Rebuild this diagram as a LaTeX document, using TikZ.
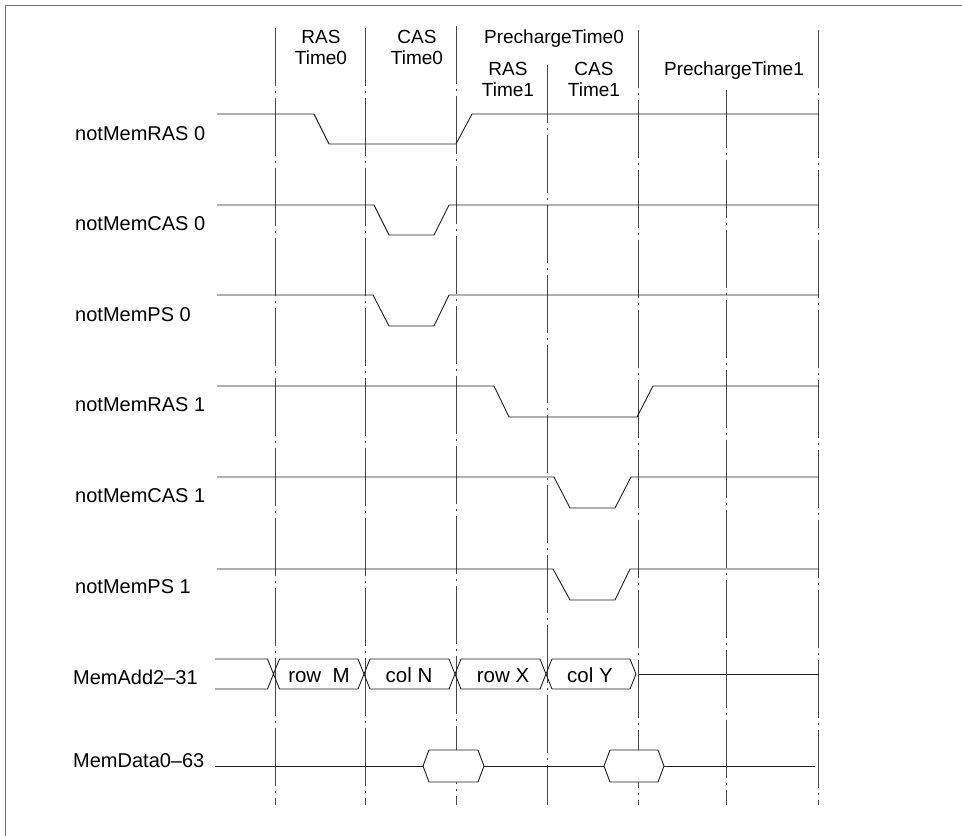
\documentclass[tikz,border=0pt]{standalone}
\usepackage{fontspec}
\setmainfont{Liberation Sans}
\begin{document}
\begin{tikzpicture}[x=1pt,y=-1pt,
  sig/.style={line width=0.9pt, black!88, line join=miter},
  gridline/.style={line width=0.75pt, black!72, dash pattern=on 58pt off 5pt on 2pt off 5pt},
  lbl/.style={anchor=base west, font=\fontsize{20}{21}\selectfont, inner sep=0pt},
  hdr/.style={anchor=base, font=\fontsize{19}{21}\selectfont, inner sep=0pt},
  cell/.style={anchor=base, font=\fontsize{20.5}{21}\selectfont, inner sep=0pt}]
\useasboundingbox (0,0) rectangle (962,836);
% frame
\draw[black!55, line width=0.8pt] (5,836) -- (5,5) -- (962,5);
% time columns
\foreach \x/\t in {275/28,365/28,456/26,547/65,638/30,726/90,818/30}
  \draw[gridline] (\x,\t) -- (\x,805);
% header
\node[hdr] (h1a) at (321,43) {RAS};
\node[hdr] (h1b) at (321,64) {Time0};
\node[hdr] (h2a) at (417,43) {CAS};
\node[hdr] (h2b) at (417,64) {Time0};
\node[hdr] (h3) at (554,43) {PrechargeTime0};
\node[hdr] (h4a) at (508,75) {RAS};
\node[hdr] (h4b) at (508,96) {Time1};
\node[hdr] (h5a) at (594,75) {CAS};
\node[hdr] (h5b) at (594,96) {Time1};
\node[hdr] (h6) at (734,75) {PrechargeTime1};
% signal labels
\node[lbl] (l1) at (75,140) {notMemRAS 0};
\node[lbl] (l2) at (75,230) {notMemCAS 0};
\node[lbl] (l3) at (75,321) {notMemPS 0};
\node[lbl] (l4) at (75,411) {notMemRAS 1};
\node[lbl] (l5) at (75,502) {notMemCAS 1};
\node[lbl] (l6) at (75,593) {notMemPS 1};
\node[lbl] (l7) at (73,684) {MemAdd2–31};
\node[lbl] (l8) at (73,767) {MemData0–63};
% waveforms
\draw[sig] (217,114) -- (314,114) -- (329,144) -- (456,144) -- (472,114) -- (819,114);
\draw[sig] (217,205) -- (374,205) -- (389,235) -- (434,235) -- (449,205) -- (819,205);
\draw[sig] (217,295) -- (373,295) -- (389,326) -- (434,326) -- (449,295) -- (819,295);
\draw[sig] (217,386) -- (494,386) -- (509,417) -- (637,417) -- (653,386) -- (819,386);
\draw[sig] (217,477) -- (554,477) -- (570,508) -- (615,508) -- (631,477) -- (819,477);
\draw[sig] (217,569) -- (553,569) -- (570,600) -- (615,600) -- (630,569) -- (819,569);
% address bus
\draw[sig] (215,659) -- (267.5,659) -- (279.5,689) -- (358,689) -- (370,659) -- (449,659)
  -- (461,689) -- (540,689) -- (552,659) -- (630,659) -- (636,674) -- (630,689)
  -- (552,689) -- (540,659) -- (461,659) -- (449,689) -- (370,689) -- (358,659)
  -- (279.5,659) -- (267.5,689) -- (215,689);
\draw[sig] (639,674) -- (819,674);
\node[cell] (a1) at (319,682) {row\ \ M};
\node[cell] (a2) at (409,682) {col N};
\node[cell] (a3) at (503,682) {row X};
\node[cell] (a4) at (590,682) {col Y};
% data bus
\draw[sig] (215,766) -- (423,766);
\draw[sig] (484,766) -- (604,766);
\draw[sig] (664,766) -- (815,766);
\draw[sig, fill=white] (423,766) -- (429,750) -- (478,750) -- (484,766) -- (478,782) -- (429,782) -- cycle;
\draw[sig, fill=white] (604,766) -- (610,750) -- (658,750) -- (664,766) -- (658,782) -- (610,782) -- cycle;
\end{tikzpicture}
\end{document}
